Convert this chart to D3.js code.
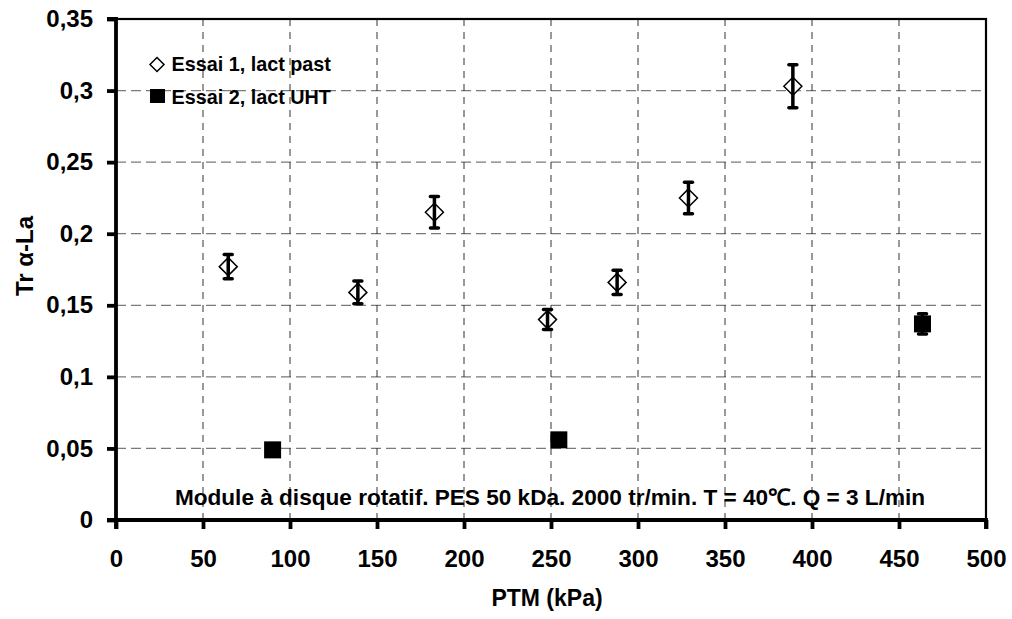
<!DOCTYPE html>
<html><head><meta charset="utf-8">
<script src="https://cdn.jsdelivr.net/npm/d3@7"></script>
<style>body{margin:0;background:#fff;} text{font-family:"Liberation Sans",Arial,sans-serif;font-weight:bold;}</style>
</head><body><svg id="c" width="1012" height="619"></svg>
<script>
const xTicks = [0,50,100,150,200,250,300,350,400,450,500];
const yTicks = [0,0.05,0.1,0.15,0.2,0.25,0.3,0.35];
const yTickLabels = ["0","0,05","0,1","0,15","0,2","0,25","0,3","0,35"];
const essai1X = [64.5,139,183,248,288,329,389];
const essai1Y = [0.177,0.159,0.215,0.140,0.166,0.225,0.303];
const essai1Err = [0.0085,0.008,0.011,0.007,0.0085,0.011,0.015];
const essai2X = [90,254.5,463.5];
const essai2Y = [0.049,0.056,0.137];
const essai2Err = [0,0,0.007];
const legendLabels = ["Essai 1, lact past","Essai 2, lact UHT"];
const xTitle = "PTM (kPa)";
const yTitle = "Tr α-La";
const note = "Module à disque rotatif. PES 50 kDa. 2000 tr/min. T = 40℃. Q = 3 L/min";

const svg = d3.select("#c");
const L=116,R=986,T=19,B=520;
const x = d3.scaleLinear().domain([0,500]).range([L,R]);
const y = d3.scaleLinear().domain([0,0.35]).range([B,T]);

// grid
svg.append("g").selectAll("line").data(yTicks.filter(v=>v>0&&v<0.35)).join("line")
  .attr("x1",L).attr("x2",R).attr("y1",d=>y(d)).attr("y2",d=>y(d))
  .attr("stroke","#7a7a7a").attr("stroke-width",1.3).attr("stroke-dasharray","10,5");
svg.append("g").selectAll("line").data(xTicks.filter(v=>v>0&&v<500)).join("line")
  .attr("y1",T).attr("y2",B).attr("x1",d=>x(d)).attr("x2",d=>x(d))
  .attr("stroke","#333").attr("stroke-width",1).attr("stroke-dasharray","7,6");

// frame
svg.append("rect").attr("x",L).attr("y",T).attr("width",R-L).attr("height",B-T)
  .attr("fill","none").attr("stroke","#000").attr("stroke-width",2.2);

// axes
const yAxis = d3.axisLeft(y).tickValues(yTicks).tickFormat((d,i)=>yTickLabels[i]).tickSize(9).tickPadding(14);
const gy = svg.append("g").attr("transform",`translate(${L},0)`).call(yAxis);
const xAxis = d3.axisBottom(x).tickValues(xTicks).tickSize(9).tickPadding(21);
const gx = svg.append("g").attr("transform",`translate(0,${B})`).call(xAxis);
[gx,gy].forEach(g=>{
  g.select(".domain").attr("stroke","#000").attr("stroke-width",3.8);
  g.selectAll(".tick line").attr("stroke","#000").attr("stroke-width",3.8);
  g.selectAll(".tick text").attr("font-size",24).attr("font-family","Liberation Sans, Arial").attr("font-weight","bold").attr("fill","#000");
});
gx.select(".domain").attr("d",`M${L},9V0H${R}V9`);
gy.select(".domain").attr("d",`M-9,${B}H0V${T}H-9`);

// error bars
function errBars(xs,ys,es){
  const g = svg.append("g");
  xs.forEach((xv,i)=>{
    if(!es[i]) return;
    const cx=x(xv), y1=y(ys[i]-es[i]), y2=y(ys[i]+es[i]);
    g.append("line").attr("x1",cx).attr("x2",cx).attr("y1",y1).attr("y2",y2).attr("stroke","#000").attr("stroke-width",3.5);
    [y1,y2].forEach(yy=>g.append("line").attr("x1",cx-4).attr("x2",cx+4).attr("y1",yy).attr("y2",yy)
      .attr("stroke","#000").attr("stroke-width",3.5).attr("stroke-linecap","round"));
  });
}
const diamond = (cx,cy,s)=>`M${cx},${cy-s}L${cx+s},${cy}L${cx},${cy+s}L${cx-s},${cy}Z`;
svg.append("g").selectAll("path").data(essai1X).join("path")
  .attr("d",(d,i)=>diamond(x(d),y(essai1Y[i]),9)).attr("fill","#fff").attr("stroke","#000").attr("stroke-width",1.5);
errBars(essai1X,essai1Y,essai1Err);
svg.append("g").selectAll("rect").data(essai2X).join("rect")
  .attr("x",d=>x(d)-8.5).attr("y",(d,i)=>y(essai2Y[i])-8.5).attr("width",17).attr("height",17).attr("fill","#000");
errBars(essai2X,essai2Y,essai2Err);

// legend
const lg = svg.append("g");
lg.append("path").attr("d",diamond(157,64.5,7)).attr("fill","none").attr("stroke","#000").attr("stroke-width",1.5);
lg.append("rect").attr("x",150).attr("y",89).attr("width",15).attr("height",14).attr("fill","#000");
lg.selectAll("text").data(legendLabels).join("text").attr("x",171.5).attr("y",(d,i)=>71+i*32.5)
  .attr("font-size",19.8).text(d=>d);

// titles
svg.append("text").attr("x",547).attr("y",606).attr("text-anchor","middle").attr("font-size",23).text(xTitle);
svg.append("text").attr("transform","translate(33,256) rotate(-90)").attr("text-anchor","middle").attr("font-size",24).text(yTitle);
svg.append("text").attr("x",550).attr("y",505).attr("text-anchor","middle").attr("font-size",22.6).text(note);
</script></body></html>
